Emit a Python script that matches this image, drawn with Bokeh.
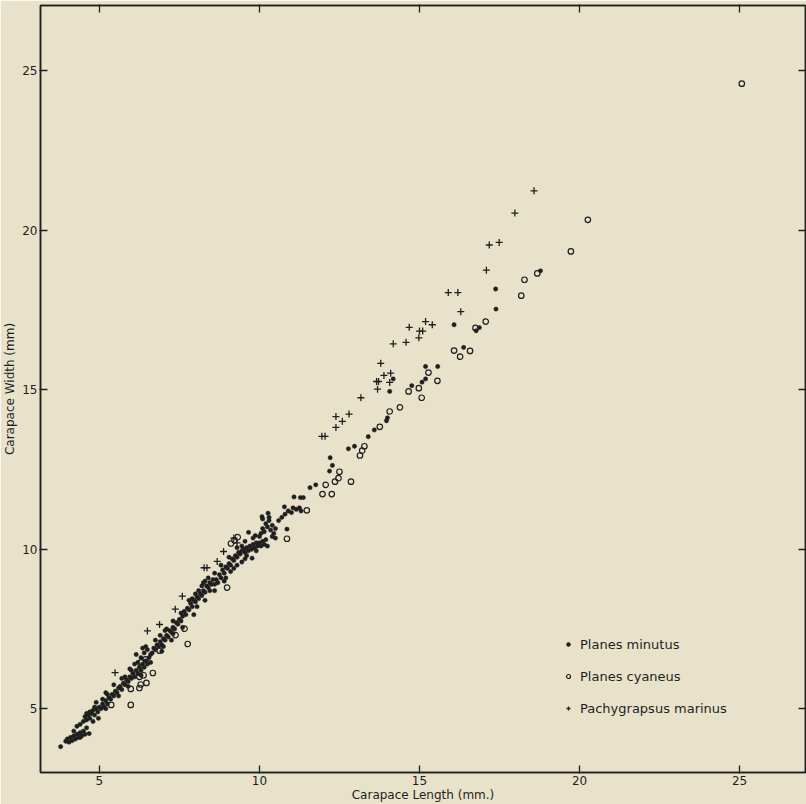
from bokeh.plotting import figure
from bokeh.models import FixedTicker, LinearAxis, Range1d, Legend, LegendItem
from bokeh.embed import file_html
from bokeh.resources import INLINE

# ---------------- data ----------------
x_ticks = [5, 10, 15, 20, 25]
y_ticks = [5, 10, 15, 20, 25]

series_names = ["Planes minutus", "Planes cyaneus", "Pachygrapsus marinus"]

minutus_x = [
    3.79, 3.95, 4.0, 4.05, 4.1, 4.15, 4.2, 4.25, 4.3, 4.35, 4.4, 4.45, 4.5, 4.55, 4.68, 4.4, 4.6, 4.2,
    4.5, 4.55, 4.6, 4.65, 4.7, 4.75, 4.8, 4.85, 4.9, 4.95, 4.97, 5.0, 5.05, 5.1, 5.15, 5.2, 5.25, 5.3,
    5.35, 5.4, 5.45, 5.5, 5.25, 5.1, 4.85, 4.7, 5.55, 5.6,
    5.65, 5.7, 5.75, 5.8, 5.85, 5.9, 5.95, 6.0, 6.05, 6.1, 6.15, 6.2, 6.25, 6.3, 6.35, 6.4, 6.45, 6.5,
    6.55, 6.2, 6.3, 6.15, 6.4, 6.5, 6.35, 6.6, 5.8, 6.0,
    6.65, 6.7, 6.75, 6.8, 6.85, 6.9, 6.95, 7.0, 7.05, 7.1, 7.15, 7.2, 7.25, 7.3, 7.35, 7.4, 7.45, 7.5,
    7.55, 7.6, 6.9, 7.1, 7.0, 7.3,
    7.65, 7.7, 7.75, 7.8, 7.85, 7.9, 7.95, 8.0, 8.05, 8.1, 8.15, 8.2, 8.25, 8.3, 8.35, 8.4, 8.45, 8.5,
    8.1, 8.2, 8.3, 8.4, 8.05, 8.55, 7.9, 8.45,
    8.6, 8.65, 8.7, 8.75, 8.8, 8.85, 8.9, 8.95, 9.0, 9.05, 9.1, 9.15, 9.2, 9.25, 9.3, 9.35, 9.4, 9.45,
    8.9, 9.1, 9.3, 9.45,
    9.5, 9.55, 9.6, 9.65, 9.7, 9.75, 9.8, 9.85, 9.9, 9.95, 10.0, 10.05, 10.1, 10.15, 10.2, 9.77, 9.6,
    10.0, 9.66, 9.87, 9.45,
    10.05, 10.1, 10.15, 10.2, 10.25, 10.3, 10.35, 10.4, 10.45, 10.5, 10.1, 10.3, 10.27, 10.08, 10.86,
    10.78, 10.8, 10.9, 11.0, 11.05, 11.15, 11.25, 11.3, 11.08, 11.28, 11.37, 10.6, 10.7,
    4.3, 4.6, 4.9, 5.2, 5.45, 5.7, 5.95, 6.1, 6.45, 6.75, 7.05, 7.3, 7.55, 7.8, 8.0, 8.25, 8.6, 8.8,
    9.05, 9.3, 9.55, 9.8,
    4.4, 4.8, 5.2, 5.6, 5.9, 6.3, 6.6, 6.95, 7.25, 7.6, 7.95, 8.3, 8.6, 8.95, 9.2, 9.55, 9.9, 10.25,
    10.5, 10.4,
    11.58, 11.76, 12.19, 12.28, 12.21, 12.78, 12.97, 13.40, 13.59, 13.97, 14.0, 14.07, 14.18, 14.76,
    15.08, 15.19, 15.19, 15.57, 16.08, 16.38, 16.87, 16.77, 17.38, 17.39, 18.78,
]
minutus_y = [
    3.81, 3.98, 4.05, 3.95, 4.1, 4.0, 4.15, 4.05, 4.2, 4.1, 4.25, 4.15, 4.3, 4.2, 4.22, 4.51, 4.4, 4.3,
    4.6, 4.75, 4.65, 4.8, 4.7, 4.85, 4.95, 4.8, 5.0, 4.9, 4.70, 5.05, 5.0, 5.15, 5.05, 5.25, 5.15, 5.35,
    5.3, 5.45, 5.4, 5.55, 5.45, 5.3, 5.05, 4.9, 5.5, 5.65,
    5.7, 5.6, 5.8, 5.75, 5.9, 5.85, 6.0, 5.95, 6.1, 6.0, 6.2, 6.1, 6.3, 6.2, 6.4, 6.3, 6.5, 6.4,
    6.6, 6.45, 6.6, 6.7, 6.75, 6.85, 6.9, 6.7, 6.0, 6.2,
    6.75, 6.9, 6.85, 7.0, 6.95, 7.1, 7.0, 7.2, 7.15, 7.3, 7.25, 7.45, 7.4, 7.55, 7.5, 7.7, 7.65, 7.8,
    7.75, 7.9, 7.3, 7.5, 6.95, 7.35,
    8.05, 7.95, 8.15, 8.1, 8.3, 8.2, 8.4, 8.35, 8.5, 8.45, 8.6, 8.55, 8.7, 8.65, 8.85, 8.8, 8.95, 8.9,
    8.7, 8.85, 9.0, 9.1, 8.2, 9.05, 8.45, 8.7,
    8.9, 9.05, 8.95, 9.2, 9.1, 9.35, 9.25, 9.45, 9.4, 9.55, 9.5, 9.7, 9.65, 9.8, 9.75, 9.9, 9.85, 9.95,
    9.0, 9.3, 9.5, 9.6,
    10.0, 9.9, 10.05, 9.95, 10.1, 10.0, 10.15, 10.05, 10.2, 10.1, 10.2, 10.1, 10.25, 10.15, 10.3, 9.72, 9.8,
    10.4, 10.53, 10.43, 10.1,
    10.5, 10.65, 10.55, 10.8, 10.7, 10.9, 10.6, 10.75, 10.5, 10.65, 10.95, 11.0, 11.13, 11.02, 10.63,
    11.33, 11.1, 11.2, 11.15, 11.3, 11.25, 11.3, 11.2, 11.64, 11.62, 11.62, 10.9, 11.0,
    4.45, 4.85, 5.2, 5.5, 5.75, 5.95, 6.25, 6.4, 6.95, 7.15, 7.45, 7.75, 8.0, 8.4, 8.6, 8.95, 9.25, 9.5,
    9.75, 10.05, 10.25, 10.35,
    4.1, 4.6, 5.0, 5.4, 5.7, 6.05, 6.45, 6.8, 7.15, 7.55, 7.95, 8.4, 8.7, 9.1, 9.4, 9.7, 9.95, 10.1,
    10.35, 10.4,
    11.93, 12.02, 12.45, 12.63, 12.87, 13.15, 13.23, 13.53, 13.74, 14.03, 14.12, 14.95, 15.34, 15.13,
    15.24, 15.34, 15.73, 15.73, 17.04, 16.33, 16.95, 16.85, 18.16, 17.53, 18.73,
]

cyaneus_x = [
    5.37, 5.98, 5.98, 6.25, 6.38, 6.29, 6.47, 6.25, 6.67, 6.3, 6.45, 6.88, 7.38, 7.66, 7.76, 8.99,
    9.11, 9.22, 9.32, 10.86, 11.48, 11.97, 12.26, 12.07, 12.36, 12.47, 12.50, 12.86, 13.14, 13.21,
    13.28, 13.76, 14.07, 14.39, 14.66, 14.98, 15.07, 15.28, 15.56, 16.08, 16.27, 16.58, 16.75, 17.07,
    18.18, 18.28, 18.68, 19.73, 20.26, 25.07,
]
cyaneus_y = [
    5.12, 5.12, 5.62, 6.0, 6.05, 5.76, 5.81, 5.65, 6.12, 6.45, 6.55, 6.82, 7.31, 7.51, 7.03, 8.80,
    10.18, 10.28, 10.38, 10.33, 11.22, 11.73, 11.73, 12.02, 12.12, 12.23, 12.43, 12.12, 12.94, 13.09,
    13.23, 13.84, 14.32, 14.45, 14.95, 15.05, 14.75, 15.54, 15.28, 16.23, 16.04, 16.22, 16.94, 17.14,
    17.95, 18.45, 18.65, 19.34, 20.33, 24.6,
]

marinus_x = [
    5.49, 6.50, 6.88, 7.37, 7.59, 8.27, 8.36, 8.68, 8.88, 9.2, 9.3, 11.95, 12.05, 12.39, 12.39, 12.59,
    12.80, 13.17, 13.66, 13.72, 13.69, 13.89, 14.1, 14.07, 13.79, 14.18, 14.58, 14.68, 14.98, 15.0,
    15.1, 15.19, 15.40, 15.9, 16.2, 16.29, 17.09, 17.18, 17.49, 17.98, 18.58,
]
marinus_y = [
    6.13, 7.44, 7.64, 8.12, 8.53, 9.42, 9.42, 9.62, 9.93, 10.35, 10.2, 13.54, 13.54, 13.82, 14.16, 14.01,
    14.24, 14.75, 15.26, 15.26, 15.02, 15.45, 15.52, 15.23, 15.83, 16.44, 16.49, 16.96, 16.63, 16.84,
    16.84, 17.14, 17.04, 18.05, 18.05, 17.45, 18.75, 19.54, 19.62, 20.54, 21.24,
]

x_label = "Carapace Length (mm.)"
y_label = "Carapace Width (mm)"

# ---------------- styling ----------------
BG = "#e8e2cb"
INK = "#1f1f1f"
FONT = "DejaVu Sans"

p = figure(width=806, height=804, output_backend="svg", toolbar_location=None,
           x_range=Range1d(3.16, 27.06), y_range=Range1d(3.0, 27.05),
           min_border_left=38, min_border_right=1, min_border_top=5, min_border_bottom=29)
p.background_fill_color = BG
p.border_fill_color = BG
p.outline_line_color = INK
p.outline_line_width = 1.5
p.grid.visible = False

for ax in p.xaxis + p.yaxis:
    ax.major_tick_in = 7
    ax.major_tick_out = 1
    ax.minor_tick_in = 0
    ax.minor_tick_out = 0
    ax.axis_line_color = INK
    ax.axis_line_width = 1.5
    ax.major_tick_line_color = INK
    ax.major_tick_line_width = 1.3
    ax.major_label_text_font = FONT
    ax.major_label_text_font_size = "12px"
    ax.major_label_text_color = INK
    ax.major_label_standoff = 2
    ax.axis_label_text_font = FONT
    ax.axis_label_text_font_size = "12px"
    ax.axis_label_text_font_style = "normal"
    ax.axis_label_text_color = INK
    ax.axis_label_standoff = 2
p.xaxis.ticker = FixedTicker(ticks=x_ticks)
p.yaxis.ticker = FixedTicker(ticks=y_ticks)
p.xaxis.axis_label = x_label
p.yaxis.axis_label = y_label
p.xaxis.axis_label_standoff = 0

# top and right frame ticks: drawn as minor ticks so no labels are produced
top_ax = LinearAxis(ticker=FixedTicker(ticks=[], minor_ticks=x_ticks))
right_ax = LinearAxis(ticker=FixedTicker(ticks=[], minor_ticks=y_ticks))
for ax in (top_ax, right_ax):
    ax.major_tick_in = 0
    ax.major_tick_out = 0
    ax.minor_tick_in = 7
    ax.minor_tick_out = 1
    ax.minor_tick_line_color = INK
    ax.minor_tick_line_width = 1.3
    ax.axis_line_color = INK
    ax.axis_line_width = 1.5
    ax.major_label_standoff = 0
p.add_layout(top_ax, "above")
p.add_layout(right_ax, "right")

r_min = p.scatter(minutus_x, minutus_y, marker="circle", size=4.3, fill_color=INK,
                  line_color=INK, line_width=0.5)
r_cya = p.scatter(cyaneus_x, cyaneus_y, marker="circle", size=5.5, fill_color=None,
                  line_color=INK, line_width=1.2)
r_mar = p.scatter(marinus_x, marinus_y, marker="cross", size=7, line_color=INK, line_width=1.3)

legend = Legend(items=[LegendItem(label=series_names[0], renderers=[r_min]),
                       LegendItem(label=series_names[1], renderers=[r_cya]),
                       LegendItem(label=series_names[2], renderers=[r_mar])],
                location=(523, 54), orientation="vertical",
                glyph_width=10, glyph_height=20, label_height=20, spacing=12,
                padding=0, margin=0, border_line_color=None, background_fill_alpha=0,
                label_text_font=FONT, label_text_font_size="13px", label_text_color=INK,
                label_standoff=7)
p.add_layout(legend)

open("out.html", "w").write(file_html(p, INLINE))
